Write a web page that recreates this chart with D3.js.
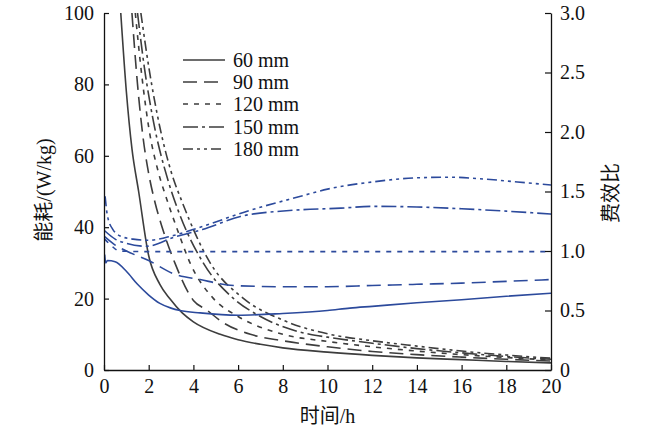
<!DOCTYPE html>
<html><head><meta charset="utf-8">
<script src="https://cdn.jsdelivr.net/npm/d3@7/dist/d3.min.js"></script>
</head>
<body style="margin:0"><svg id="c" width="650" height="433"></svg>
<script>
// ---- data ----
const seriesNames = ["60 mm","90 mm","120 mm","150 mm","180 mm"];
// energy consumption (left axis, W/kg)
const energyT60  = [0.75,1.0,1.25,1.55,2.0,2.5,2.94,3.5,4.0,5.2,6,7,8,10,12,14,16,18,20];
const energy60   = [100,78,62,50,32,24,20,16,13.5,10,8.5,7.2,6.2,5.0,4.1,3.4,2.9,2.4,2.0];
const energyT90  = [1.25,1.5,1.75,2.0,2.28,2.6,3.17,4.0,4.6,5.3,6.55,8,10,12,14,16,18,20];
const energy90   = [100,80,65,55,47,40,30,19.5,16.8,13.4,10,8.2,6.5,5.2,4.3,3.6,3.0,2.5];
const energyT120 = [1.4,1.7,2.0,2.45,2.8,3.3,3.85,4.9,6,8,10,12,14,16,18,20];
const energy120  = [100,82,68,55,48,39,30,20,15,10,8.0,6.5,5.3,4.3,3.5,2.8];
const energyT150 = [1.5,1.8,2.2,2.87,3.3,4.44,5.8,7,9.2,10,12,14,16,18,20];
const energy150  = [100,85,70,53,45,30,20,15,10,9.2,7.5,6.0,4.8,3.8,3.0];
const energyT180 = [1.65,2.0,2.5,3.03,3.5,4.75,6.25,8,10.1,12,14,16,18,20];
const energy180  = [100,85,68,55,47,30,20,14,10,8.2,6.7,5.3,4.2,3.3];
// cost-efficiency ratio (right axis)
const ratioT60  = [0.03,0.08,0.15,0.5,1.0,1.5,2.0,2.5,3.0,3.4,4.3,6,8,10,11,12,14,16,18,20];
const ratio60   = [0.97,0.9,0.92,0.91,0.83,0.72,0.63,0.56,0.52,0.50,0.48,0.46,0.475,0.50,0.52,0.535,0.565,0.59,0.62,0.645];
const ratioT90  = [0.03,0.5,1.0,2.0,3.1,4.3,5.8,8,10,12,14,16,18,20];
const ratio90   = [1.12,1.05,1.0,0.92,0.81,0.76,0.71,0.70,0.70,0.71,0.72,0.73,0.745,0.76];
const ratioT120 = [0.03,0.3,0.7,2,6,10,14,20];
const ratio120  = [1.1,1.05,1.0,0.995,0.995,0.995,0.995,0.995];
const ratioT150 = [0.03,0.5,0.9,1.9,3.2,4.4,6.1,8.3,10.6,12,14,16,18,20];
const ratio150  = [1.17,1.1,1.07,1.04,1.12,1.18,1.29,1.34,1.36,1.375,1.37,1.355,1.335,1.31];
const ratioT180 = [0.05,0.15,0.4,0.8,1.3,2.0,3.1,4.3,6.5,8.8,10,12,14,15.5,17,18.5,20];
const ratio180  = [1.46,1.3,1.18,1.12,1.10,1.09,1.13,1.20,1.34,1.46,1.52,1.58,1.615,1.62,1.605,1.58,1.555];

const xTicks = [0,2,4,6,8,10,12,14,16,18,20];
const yLeftTicks = [0,20,40,60,80,100];
const yRightTicks = [0,0.5,1.0,1.5,2.0,2.5,3.0];
const yRightLabels = ["0","0.5","1.0","1.5","2.0","2.5","3.0"];

// ---- styles ----
const dashes = [null,"14,7","5,6","15,4,3,4","10,4,3,4,3,4"];
const grayC = "#3d3d3d", blueC = "#2c4a9c";
const SERIF = '"Liberation Serif"';
const CJK = '"Noto Sans CJK SC"';
const FS = 20;

const svg = d3.select("#c").attr("font-family","Liberation Serif");
const L=104, R=551, T=13, B=370;
const x = d3.scaleLinear().domain([0,20]).range([L,R]);
const yL = d3.scaleLinear().domain([0,100]).range([B,T]);
const yR = d3.scaleLinear().domain([0,3]).range([B,T]);

svg.append("defs").append("clipPath").attr("id","clip")
  .append("rect").attr("x",L).attr("y",T).attr("width",R-L).attr("height",B-T);

const energyT=[energyT60,energyT90,energyT120,energyT150,energyT180];
const energyV=[energy60,energy90,energy120,energy150,energy180];
const ratioT=[ratioT60,ratioT90,ratioT120,ratioT150,ratioT180];
const ratioV=[ratio60,ratio90,ratio120,ratio150,ratio180];

const g = svg.append("g").attr("clip-path","url(#clip)");
const lineL = d3.line().x(d=>x(d[0])).y(d=>yL(d[1])).curve(d3.curveMonotoneX);
const lineR = d3.line().x(d=>x(d[0])).y(d=>yR(d[1])).curve(d3.curveMonotoneX);

for(let i=0;i<5;i++){
  const pe = energyT[i].map((t,j)=>[t,energyV[i][j]]);
  g.append("path").attr("d",lineL(pe)).attr("fill","none").attr("stroke",grayC)
   .attr("stroke-width",1.6).attr("stroke-dasharray",dashes[i]);
}
for(let i=0;i<5;i++){
  const pr = ratioT[i].map((t,j)=>[t,ratioV[i][j]]);
  g.append("path").attr("d",lineR(pr)).attr("fill","none").attr("stroke",blueC)
   .attr("stroke-width",1.6).attr("stroke-dasharray",dashes[i]);
}

// ---- axes ----
function styleAxis(a){
  a.attr("font-family",null).attr("font-size",null);
  a.selectAll("text").style("font-family",SERIF).attr("font-size",FS).attr("fill","#111");
  a.selectAll("line").attr("stroke","#111").attr("stroke-width",1.2);
  a.select(".domain").attr("stroke","#111").attr("stroke-width",1.3);
}
styleAxis(svg.append("g").attr("transform",`translate(0,${B})`)
  .call(d3.axisBottom(x).tickValues(xTicks).tickSizeInner(-5).tickSizeOuter(0).tickPadding(9).tickFormat(d3.format("d"))));
styleAxis(svg.append("g").attr("transform",`translate(${L},0)`)
  .call(d3.axisLeft(yL).tickValues(yLeftTicks).tickSizeInner(-5).tickSizeOuter(0).tickPadding(10).tickFormat(d3.format("d"))));
styleAxis(svg.append("g").attr("transform",`translate(${R},0)`)
  .call(d3.axisRight(yR).tickValues(yRightTicks).tickSizeInner(-6).tickSizeOuter(0).tickPadding(9).tickFormat((d,i)=>yRightLabels[i])));

// axis titles (CJK part in CJK font, latin part in serif)
function title(sel, cjk, latin){
  sel.attr("font-size",FS).attr("fill","#111");
  sel.append("tspan").style("font-family",CJK).text(cjk);
  if(latin) sel.append("tspan").style("font-family",SERIF).text(latin);
}
title(svg.append("text").attr("x",(L+R)/2).attr("y",423).attr("text-anchor","middle"), "时间", "/h");
title(svg.append("text").attr("transform",`translate(51,190) rotate(-90)`).attr("text-anchor","middle"), "能耗", "/(W/kg)");
title(svg.append("text").attr("transform",`translate(618,193) rotate(-90)`).attr("text-anchor","middle"), "费效比", null);

// legend
const legY=[60,82,104,127,149];
seriesNames.forEach((n,i)=>{
  svg.append("line").attr("x1",183).attr("x2",225).attr("y1",legY[i]).attr("y2",legY[i])
    .attr("stroke",grayC).attr("stroke-width",1.6).attr("stroke-dasharray",dashes[i]);
  svg.append("text").attr("x",233).attr("y",legY[i]+7).style("font-family",SERIF)
    .attr("font-size",FS).attr("fill","#111").text(n);
});
</script></body></html>
